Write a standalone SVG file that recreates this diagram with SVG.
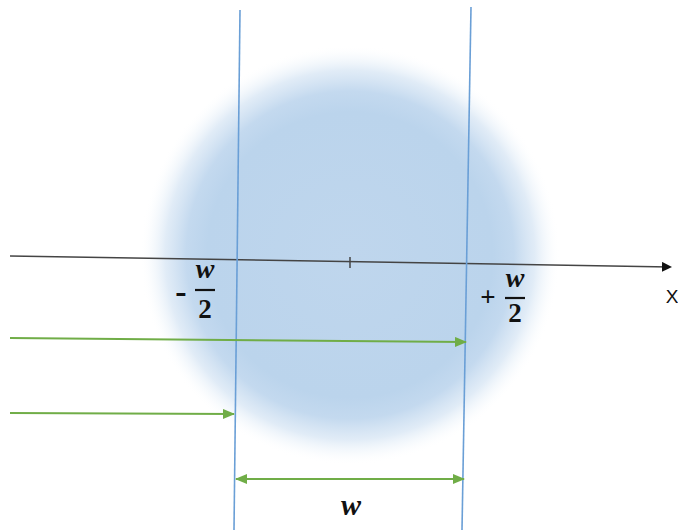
<svg xmlns="http://www.w3.org/2000/svg" width="678" height="532" viewBox="0 0 678 532">
<defs>
<radialGradient id="blob" cx="350" cy="255" r="210" gradientUnits="userSpaceOnUse">
<stop offset="0" stop-color="#bfd6ed"/>
<stop offset="0.68" stop-color="#bbd4ec"/>
<stop offset="0.78" stop-color="#bdd5ed" stop-opacity="0.9"/>
<stop offset="0.88" stop-color="#c8dcf0" stop-opacity="0.55"/>
<stop offset="0.95" stop-color="#e0ecf7" stop-opacity="0.2"/>
<stop offset="1" stop-color="#ffffff" stop-opacity="0"/>
</radialGradient>
<marker id="axarrow" markerWidth="10" markerHeight="10" refX="8" refY="5" orient="auto" markerUnits="userSpaceOnUse">
<path d="M0,0 L10,5 L0,10 z" fill="#111"/>
</marker>
<marker id="garrow" markerWidth="12" markerHeight="10" refX="11" refY="5" orient="auto-start-reverse" markerUnits="userSpaceOnUse">
<path d="M0,0 L12,5 L0,10 z" fill="#70ad47"/>
</marker>
<style>
.vl{stroke:#6a9fd6;stroke-width:1.6;fill:none}
.ax{stroke:#444;stroke-width:1.5;fill:none}
.gr{stroke:#70ad47;stroke-width:2;fill:none}
.m{font-family:"Liberation Serif",serif;font-weight:bold;fill:#111}
.mi{font-style:italic}
.bar{stroke:#111;stroke-width:2.2}
.s{font-family:"Liberation Sans",sans-serif;fill:#111}
</style>
</defs>
<rect width="678" height="532" fill="#fff"/>
<circle id="blob-area" cx="350" cy="255" r="210" fill="url(#blob)"/>
<g id="connectors">
<line class="ax" x1="10" y1="256" x2="670" y2="267" marker-end="url(#axarrow)"/>
<line x1="350" y1="257" x2="350" y2="268" stroke="#444" stroke-width="1.5"/>
<line class="vl" x1="240" y1="10" x2="234" y2="530"/>
<line class="vl" x1="471" y1="7" x2="462" y2="530"/>
<line class="gr" x1="10" y1="338" x2="466" y2="342" marker-end="url(#garrow)"/>
<line class="gr" x1="10" y1="413" x2="234" y2="414" marker-end="url(#garrow)"/>
<line class="gr" x1="236" y1="479" x2="464" y2="479" marker-start="url(#garrow)" marker-end="url(#garrow)"/>
</g>
<g id="label-minus">
<text class="m" x="181" y="303" font-size="34" text-anchor="middle">-</text>
<text class="m mi" x="205" y="278" font-size="28" text-anchor="middle">w</text>
<line class="bar" x1="195" y1="290" x2="215" y2="290"/>
<text class="m" x="205" y="318" font-size="27" text-anchor="middle">2</text>
</g>
<g id="label-plus">
<text class="m" x="488" y="306" font-size="27" text-anchor="middle">+</text>
<text class="m mi" x="515" y="287" font-size="28" text-anchor="middle">w</text>
<line class="bar" x1="505" y1="298" x2="525" y2="298"/>
<text class="m" x="515" y="322" font-size="27" text-anchor="middle">2</text>
</g>
<g id="label-x">
<text class="s" x="672" y="303" font-size="19" text-anchor="middle">X</text>
</g>
<g id="label-w">
<text class="m mi" x="351" y="515" font-size="30" text-anchor="middle">w</text>
</g>
</svg>
